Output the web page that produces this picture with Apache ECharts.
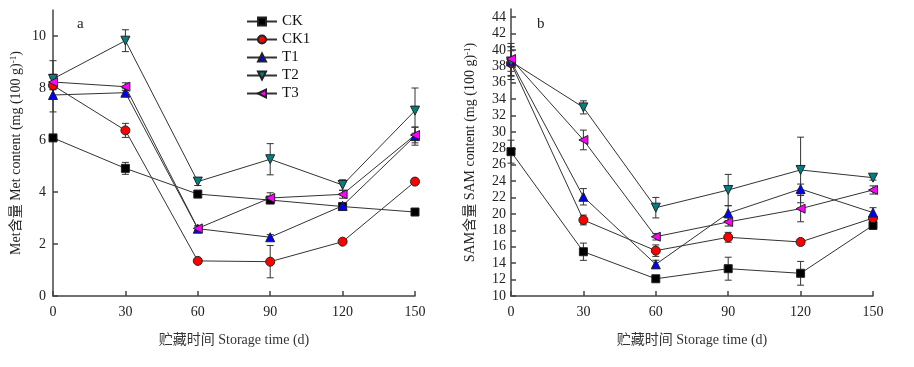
<!DOCTYPE html>
<html>
<head>
<meta charset="utf-8">
<script src="https://cdn.jsdelivr.net/npm/echarts@6/dist/echarts.min.js"></script>
<style>
html,body{margin:0;padding:0;background:#fff;}
#chart{width:914px;height:367px;}
</style>
</head>
<body>
<div id="chart"></div>
<script>
// ---- data ----
const days = [0, 30, 60, 90, 120, 150];
const seriesNames = ['CK', 'CK1', 'T1', 'T2', 'T3'];

// Met content (panel a)
const metCK  = [6.08, 4.91, 3.92, 3.69, 3.44, 3.23];
const metCK1 = [8.10, 6.37, 1.35, 1.32, 2.09, 4.40];
const metT1  = [7.73, 7.82, 2.59, 2.26, 3.47, 6.15];
const metT2  = [8.35, 9.82, 4.40, 5.26, 4.27, 7.13];
const metT3  = [8.23, 8.05, 2.60, 3.77, 3.91, 6.19];
const metCKErr  = [0.10, 0.23, 0.12, 0.08, 0.10, 0.05];
const metCK1Err = [0.15, 0.27, 0.05, 0.62, 0.06, 0.10];
const metT1Err  = [0.65, 0.15, 0.10, 0.10, 0.12, 0.35];
const metT2Err  = [0.70, 0.42, 0.15, 0.60, 0.20, 0.87];
const metT3Err  = [0.30, 0.15, 0.10, 0.20, 0.15, 0.30];

// SAM content (panel b)
const samCK  = [27.6, 15.4, 12.1, 13.33, 12.77, 18.62];
const samCK1 = [38.4, 19.27, 15.53, 17.16, 16.59, 19.5];
const samT1  = [38.6, 22.1, 13.86, 20.1, 23.05, 20.17];
const samT2  = [38.6, 33.0, 20.77, 22.93, 25.37, 24.43];
const samT3  = [38.9, 29.03, 17.23, 19.03, 20.65, 22.93];
const samCKErr  = [1.4, 1.05, 0.3, 1.4, 1.45, 0.5];
const samCK1Err = [1.5, 0.6, 0.7, 0.6, 0.3, 0.3];
const samT1Err  = [1.8, 1.0, 0.5, 0.9, 0.6, 0.6];
const samT2Err  = [2.2, 0.8, 1.25, 1.9, 4.0, 0.3];
const samT3Err  = [1.5, 1.2, 0.4, 0.5, 1.6, 0.5];

const xTicks = [0, 30, 60, 90, 120, 150];
const metTicks = [0, 2, 4, 6, 8, 10];
const samTicks = [10, 12, 14, 16, 18, 20, 22, 24, 26, 28, 30, 32, 34, 36, 38, 40, 42, 44];

// ---- styles ----
const FONT = "'Liberation Serif', 'Times New Roman', 'Noto Sans CJK SC', serif";
const styles = {
  CK:  {symbol: 'rect', rotate: 0, color: '#000000', size: 8},
  CK1: {symbol: 'circle', rotate: 0, color: '#ff0000', size: 9},
  T1:  {symbol: 'triangle', rotate: 0, color: '#0000ff', size: 9},
  T2:  {symbol: 'triangle', rotate: 180, color: '#008080', size: 9},
  T3:  {symbol: 'triangle', rotate: 90, color: '#ff00ff', size: 9}
};

const metVals = {CK: metCK, CK1: metCK1, T1: metT1, T2: metT2, T3: metT3};
const metErrs = {CK: metCKErr, CK1: metCK1Err, T1: metT1Err, T2: metT2Err, T3: metT3Err};
const samVals = {CK: samCK, CK1: samCK1, T1: samT1, T2: samT2, T3: samT3};
const samErrs = {CK: samCKErr, CK1: samCK1Err, T1: samT1Err, T2: samT2Err, T3: samT3Err};

function lineSeries(name, vals, idx) {
  const s = styles[name];
  return {
    name: name, type: 'line', xAxisIndex: idx, yAxisIndex: idx,
    data: days.map((d, i) => [d, vals[i]]),
    symbol: s.symbol, symbolSize: s.size, symbolRotate: s.rotate,
    lineStyle: {color: '#333', width: 1},
    itemStyle: {color: s.color, borderColor: '#222', borderWidth: 1},
    z: 5, animation: false
  };
}

function errSeries(name, vals, errs, idx) {
  return {
    name: name + '_err', type: 'custom', xAxisIndex: idx, yAxisIndex: idx,
    data: days.map((d, i) => [d, vals[i] - errs[i], vals[i] + errs[i]]),
    encode: {x: 0, y: [1, 2]},
    renderItem: function (params, api) {
      const lo = api.coord([api.value(0), api.value(1)]);
      const hi = api.coord([api.value(0), api.value(2)]);
      const w = 3.5;
      const st = {stroke: '#333', lineWidth: 1};
      return {type: 'group', children: [
        {type: 'line', shape: {x1: lo[0], y1: lo[1], x2: hi[0], y2: hi[1]}, style: st},
        {type: 'line', shape: {x1: lo[0] - w, y1: lo[1], x2: lo[0] + w, y2: lo[1]}, style: st},
        {type: 'line', shape: {x1: hi[0] - w, y1: hi[1], x2: hi[0] + w, y2: hi[1]}, style: st}
      ]};
    },
    z: 3, silent: true, animation: false
  };
}

const series = [];
seriesNames.forEach(n => series.push(errSeries(n, metVals[n], metErrs[n], 0)));
seriesNames.forEach(n => series.push(errSeries(n, samVals[n], samErrs[n], 1)));
seriesNames.forEach(n => series.push(lineSeries(n, metVals[n], 0)));
seriesNames.forEach(n => series.push(lineSeries(n, samVals[n], 1)));

const axisLineStyle = {color: '#444', width: 1.5};
const labelStyle = {color: '#222', fontFamily: FONT, fontSize: 14};
const supRich = {sup: {fontSize: 9, fontFamily: FONT, color: '#222', verticalAlign: 'top', padding: [0, 0, 6, 0]}};

function xAxis(idx) {
  return {
    type: 'value', gridIndex: idx, min: 0, max: 150, interval: 30,
    axisLine: {show: true, lineStyle: axisLineStyle},
    axisTick: {show: true, inside: true, length: 5, lineStyle: axisLineStyle, customValues: xTicks},
    axisLabel: Object.assign({margin: 9, customValues: xTicks}, labelStyle),
    splitLine: {show: false},
    name: '贮藏时间 Storage time (d)', nameLocation: 'middle', nameGap: 37,
    nameTextStyle: {color: '#333', fontFamily: FONT, fontSize: 14}
  };
}

const ch = echarts.init(document.getElementById('chart'), null, {renderer: 'canvas'});
ch.setOption({
  animation: false,
  backgroundColor: '#fff',
  grid: [
    {left: 53, right: 499, top: 10, bottom: 71},
    {left: 511, right: 41, top: 9, bottom: 71}
  ],
  legend: {
    orient: 'vertical', left: 241, top: 9,
    data: seriesNames,
    itemWidth: 30, itemHeight: 10, itemGap: 3,
    textStyle: {color: '#111', fontFamily: FONT, fontSize: 15, lineHeight: 14},
    inactiveColor: '#ccc'
  },
  xAxis: [xAxis(0), xAxis(1)],
  yAxis: [
    {
      type: 'value', gridIndex: 0, min: 0, max: 11, interval: 2,
      axisLine: {show: true, lineStyle: axisLineStyle},
      axisTick: {show: true, inside: true, length: 5, lineStyle: axisLineStyle, customValues: metTicks},
      axisLabel: Object.assign({margin: 7, customValues: metTicks}, labelStyle),
      splitLine: {show: false},
      name: 'Met含量 Met content (mg (100 g){sup|-1})', nameLocation: 'middle', nameGap: 29,
      nameTextStyle: {color: '#222', fontFamily: FONT, fontSize: 14, rich: supRich}
    },
    {
      type: 'value', gridIndex: 1, min: 10, max: 45, interval: 2,
      axisLine: {show: true, lineStyle: axisLineStyle},
      axisTick: {show: true, inside: true, length: 5, lineStyle: axisLineStyle, customValues: samTicks},
      axisLabel: Object.assign({margin: 5, customValues: samTicks}, labelStyle),
      splitLine: {show: false},
      name: 'SAM含量 SAM content (mg (100 g){sup|-1})', nameLocation: 'middle', nameGap: 33,
      nameTextStyle: {color: '#222', fontFamily: FONT, fontSize: 14, rich: supRich}
    }
  ],
  graphic: [
    {type: 'text', left: 77, top: 17, style: {text: 'a', font: '15px ' + FONT, fill: '#222'}},
    {type: 'text', left: 537, top: 17, style: {text: 'b', font: '15px ' + FONT, fill: '#222'}}
  ],
  series: series
});
</script>
</body>
</html>
